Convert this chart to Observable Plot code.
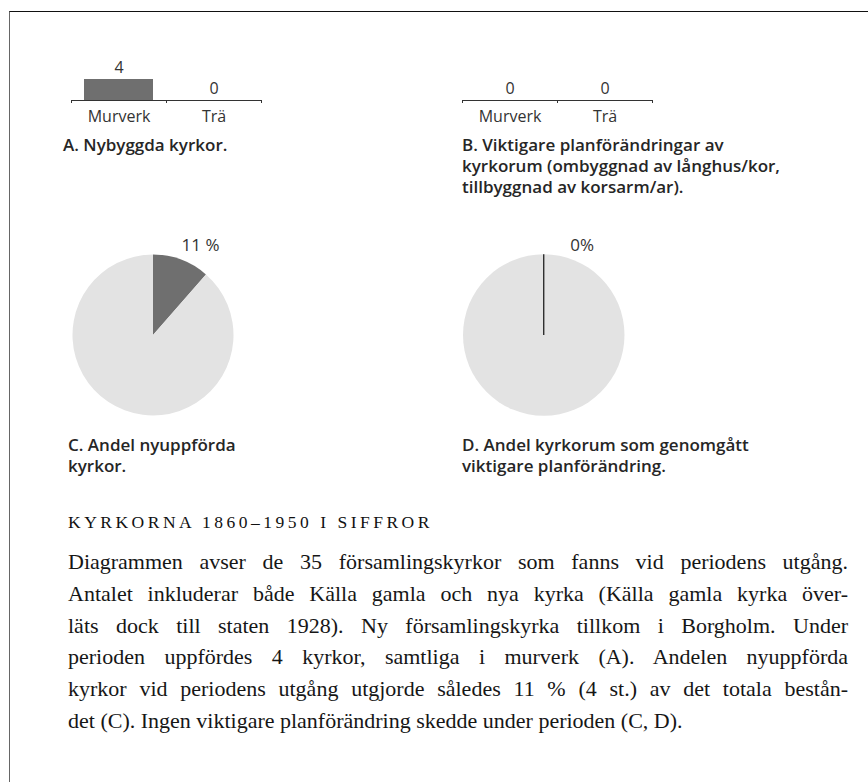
<!DOCTYPE html>
<html>
<head>
<meta charset="utf-8">
<script src="https://cdn.jsdelivr.net/npm/d3@7"></script>
<script src="https://cdn.jsdelivr.net/npm/@observablehq/plot@0.6"></script>
<style>
  body { margin: 0; background: #fff; }
  #page { position: relative; width: 868px; height: 782px; overflow: hidden; background: #fff; }
  .frame { position: absolute; left: 9px; top: 11px; right: -2px; bottom: -2px; border-top: 1px solid #111; border-left: 1px solid #666; }
  .panel { position: absolute; }
  .cap { position: absolute; font-family: "Open Sans", sans-serif; font-size: 17px; font-weight: 600; line-height: 21px; color: #262626; white-space: nowrap; }
  .head { position: absolute; left: 68px; top: 511px; font-family: "Liberation Serif", serif; font-size: 17.5px; line-height: 22px; letter-spacing: 3.5px; color: #111; white-space: nowrap; }
  .body { position: absolute; left: 68px; top: 546px; width: 780px; font-family: "Liberation Serif", serif; font-size: 22px; line-height: 31.8px; color: #161616; }
  .body div { text-align: justify; text-align-last: justify; white-space: nowrap; }
  .body div.last { text-align-last: left; }
  svg text { -webkit-font-smoothing: antialiased; }
</style>
</head>
<body>
<div id="page">
  <div class="frame"></div>
  <div id="A" class="panel" style="left:0;top:0"></div>
  <div id="B" class="panel" style="left:434px;top:0"></div>
  <div id="C" class="panel" style="left:0;top:200px"></div>
  <div id="D" class="panel" style="left:434px;top:200px"></div>
  <div class="cap" id="capA" style="left:63px;top:134px"></div>
  <div class="cap" id="capB" style="left:462px;top:134px"></div>
  <div class="cap" id="capC" style="left:68px;top:434px"></div>
  <div class="cap" id="capD" style="left:462px;top:434px"></div>
  <div class="head" id="head"></div>
  <div class="body" id="body"></div>
</div>
<script>
// ---- data ----
const categories = ["Murverk", "Trä"];
const valuesA = [4, 0];          // A. Nybyggda kyrkor
const valuesB = [0, 0];          // B. Viktigare planförändringar
const pieCategories = ["Ja", "Nej"];
const pieC = [4, 31];            // C. Andel nyuppförda kyrkor (av 35)
const pieD = [0, 35];            // D. Andel kyrkorum med viktigare planförändring
const pieLabelC = "11 %";
const pieLabelD = "0%";
const captionA = ["A. Nybyggda kyrkor."];
const captionB = ["B. Viktigare planförändringar av", "kyrkorum (ombyggnad av långhus/kor,", "tillbyggnad av korsarm/ar)."];
const captionC = ["C. Andel nyuppförda", "kyrkor."];
const captionD = ["D. Andel kyrkorum som genomgått", "viktigare planförändring."];
const heading = "KYRKORNA 1860–1950 I SIFFROR";
const bodyLines = [
  "Diagrammen avser de 35 församlingskyrkor som fanns vid periodens utgång.",
  "Antalet inkluderar både Källa gamla och nya kyrka (Källa gamla kyrka över-",
  "läts dock till staten 1928). Ny församlingskyrka tillkom i Borgholm. Under",
  "perioden uppfördes 4 kyrkor, samtliga i murverk (A). Andelen nyuppförda",
  "kyrkor vid periodens utgång utgjorde således 11 % (4 st.) av det totala bestån-",
  "det (C). Ingen viktigare planförändring skedde under perioden (C, D)."
];

const DARK = "#6f6f6f", LIGHT = "#e3e3e3", INK = "#333333";
const sans = "'Open Sans', sans-serif";

function barPanel(values, ml, mr) {
  const rows = categories.map((c, i) => ({i, c, v: values[i]}));
  return Plot.plot({
    width: 434, height: 130,
    marginLeft: ml, marginRight: mr, marginTop: 79, marginBottom: 30,
    style: {fontFamily: sans, fontSize: "15px", color: INK, background: "transparent", overflow: "visible"},
    x: {domain: [0, categories.length], axis: null, label: null},
    y: {domain: [0, 4], axis: null, label: null},
    marks: [
      Plot.rectY(rows, {x1: "i", x2: d => d.i + 1, y: "v", insetLeft: 13, insetRight: 13, fill: DARK}),
      Plot.ruleY([0], {stroke: INK, strokeWidth: 1}),
      Plot.axisX({ticks: d3.range(categories.length + 1), tickSize: 3, tickFormat: () => "", label: null, stroke: INK}),
      Plot.text(rows, {x: d => d.i + 0.5, y: "v", text: d => String(d.v), dy: -12, fill: INK, fontSize: 16, fontWeight: 400}),
      Plot.text(rows, {x: d => d.i + 0.5, y: 0, text: "c", dy: 16, fill: INK, fontSize: 16, fontWeight: 400})
    ]
  });
}

function pieRender(values) {
  return (index, scales) => {
    const cx = scales.x(0), cy = scales.y(0), r = Math.abs(scales.x(1) - scales.x(0));
    const data = pieCategories.map((k, i) => ({k, v: values[i]}));
    const arcs = d3.pie().sort(null).value(d => d.v)(data);
    const arc = d3.arc().innerRadius(0).outerRadius(r);
    const g = d3.create("svg:g").attr("transform", `translate(${cx},${cy})`);
    const colors = [DARK, LIGHT];
    for (const a of arcs) {
      if (a.endAngle > a.startAngle) g.append("path").attr("d", arc(a)).attr("fill", colors[a.index]);
    }
    for (const a of arcs) {
      if (a.endAngle === a.startAngle) {
        g.append("line").attr("x1", 0).attr("y1", 0)
          .attr("x2", r * Math.sin(a.startAngle)).attr("y2", -r * Math.cos(a.startAngle))
          .attr("stroke", "#111").attr("stroke-width", 1.2);
      }
    }
    return g.node();
  };
}

function piePanel(values, label, ml, mr, dx) {
  return Plot.plot({
    width: 434, height: 250,
    marginLeft: ml, marginRight: mr, marginTop: 55, marginBottom: 35,
    style: {fontFamily: sans, color: INK, background: "transparent", overflow: "visible"},
    x: {domain: [-1, 1], axis: null, label: null},
    y: {domain: [-1, 1], axis: null, label: null},
    marks: [
      pieRender(values),
      Plot.text([label], {x: () => 0, y: () => 1, text: d => d, dx, dy: -10, fill: INK, fontSize: 17, fontWeight: 400})
    ]
  });
}

document.getElementById("A").append(barPanel(valuesA, 71, 173));
document.getElementById("B").append(barPanel(valuesB, 28, 216));
document.getElementById("C").append(piePanel(pieC, pieLabelC, 72.5, 200.5, 47));
document.getElementById("D").append(piePanel(pieD, pieLabelD, 29, 243.5, 38));

function setLines(id, lines) {
  const el = document.getElementById(id);
  lines.forEach(t => { const d = document.createElement("div"); d.textContent = t; el.append(d); });
}
setLines("capA", captionA);
setLines("capB", captionB);
setLines("capC", captionC);
setLines("capD", captionD);
document.getElementById("head").textContent = heading;
const body = document.getElementById("body");
bodyLines.forEach((t, i) => {
  const d = document.createElement("div");
  d.textContent = t;
  if (i === bodyLines.length - 1) d.className = "last";
  body.append(d);
});
</script>
</body>
</html>
